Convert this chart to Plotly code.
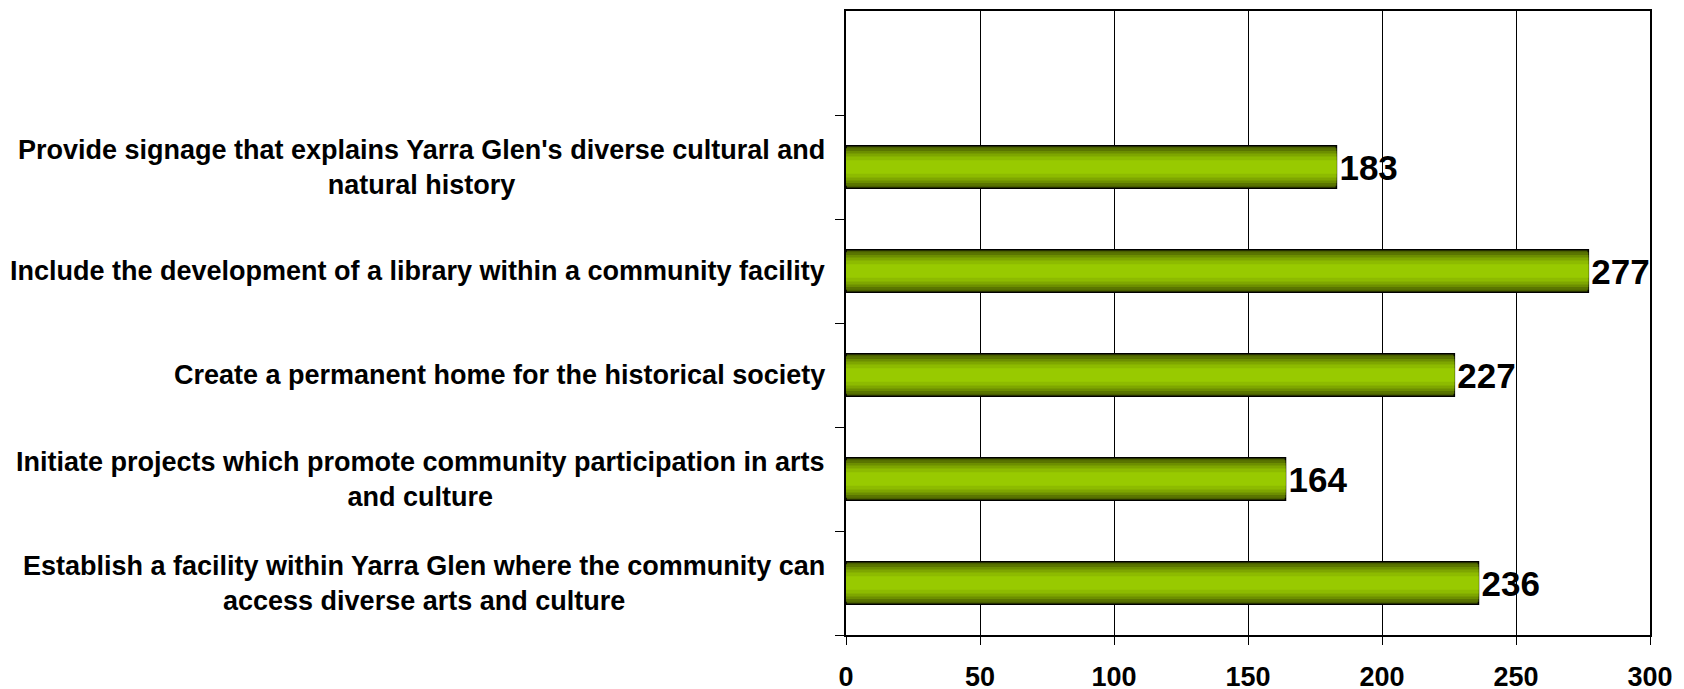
import plotly.graph_objects as go

categories = [
    "Establish a facility within Yarra Glen where the community can<br>access diverse arts and culture",
    "Initiate projects which promote community participation in arts<br>and culture",
    "Create a permanent home for the historical society",
    "Include the development of a library within a community facility",
    "Provide signage that explains Yarra Glen's diverse cultural and<br>natural history",
]
values = [236, 164, 227, 277, 183]
x_ticks = [0, 50, 100, 150, 200, 250, 300]

# gradient layers (outer -> inner)
layer_colors = ["#4a5f00", "#5a7500", "#6c8e00", "#7ea600", "#8dbb00", "#98ca00"]
layer_widths = [0.41, 0.36, 0.31, 0.26, 0.20, 0.13]

fig = go.Figure()
for i, (c, w) in enumerate(zip(layer_colors, layer_widths)):
    fig.add_trace(go.Bar(
        y=categories, x=values, orientation="h",
        width=w,
        marker=dict(color=c, line=dict(color="#000000", width=1.5 if i == 0 else 0)),
        text=[f"<b>{v}</b>" for v in values] if i == 0 else None,
        textposition="outside" if i == 0 else "none",
        textfont=dict(family="Liberation Sans, Arial", size=35, color="#000000"),
        cliponaxis=False,
        hoverinfo="skip",
        showlegend=False,
    ))

for cat in categories:
    fig.add_annotation(
        x=0, xref="paper", y=cat, yref="y",
        text="<b>" + cat + "</b>", showarrow=False,
        xanchor="right", yanchor="middle", align="center", xshift=-19,
        font=dict(family="Liberation Sans, Arial", size=27, color="#000000"),
    )

fig.update_layout(
    width=1684, height=689,
    margin=dict(l=838, r=42, t=1, b=62),
    barmode="overlay",
    plot_bgcolor="#ffffff", paper_bgcolor="#ffffff",
    font=dict(family="Liberation Sans, Arial", color="#000000"),
)
fig.update_xaxes(
    range=[0, 300], tickvals=x_ticks, ticktext=[f"<b>{t}</b>" for t in x_ticks],
    showgrid=True, gridcolor="#000000", gridwidth=1,
    showline=True, linecolor="#000000", linewidth=1.5, mirror=True,
    ticks="outside", ticklen=8, tickcolor="#000000",
    tickfont=dict(size=27, family="Liberation Sans, Arial"),
    ticklabelstandoff=9, zeroline=False,
)
fig.update_yaxes(
    type="category", categoryorder="array", categoryarray=categories,
    range=[-0.5, 5.5], showticklabels=False,
    ticks="outside", ticklen=9, tickcolor="#000000", tickson="boundaries",
    showline=True, linecolor="#000000", linewidth=1.5, mirror=True,
    showgrid=False, zeroline=False,
)

fig.write_html("out.html")
